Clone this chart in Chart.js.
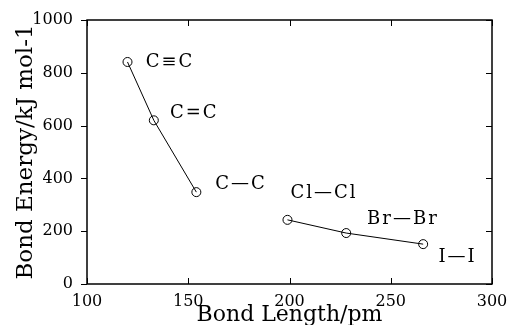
<!DOCTYPE html>
<html>
<head>
<meta charset="utf-8">
<script src="https://cdn.jsdelivr.net/npm/chart.js@4.4.0/dist/chart.umd.min.js"></script>
<style>
  body { margin: 0; background: #fff; }
  #wrap { width: 513px; height: 325px; }
</style>
</head>
<body>
<div id="wrap"><canvas id="chart"></canvas></div>
<script>
// carbon-carbon bonds
const carbonLength = [120, 133, 154];
const carbonEnergy = [841, 620, 348];
// halogen bonds
const halogenLength = [199, 228, 266];
const halogenEnergy = [243, 193, 151];

// bond labels (placed in data units)
const bondNames = ['C≡C', 'C=C', 'C—C', 'Cl—Cl', 'Br—Br', 'I—I'];
const bondLabelX = [141, 153, 176, 217, 256, 283];
const bondLabelY = [841, 648, 379, 345, 246, 102];

const xTicks = [100, 150, 200, 250, 300];
const yTicks = [0, 200, 400, 600, 800, 1000];

const FONT = "'DejaVu Serif', serif";

const toPoints = (xs, ys) => xs.map((x, i) => ({ x: x, y: ys[i] }));

// frame, ticks and bond labels
const decorations = {
    id: 'decorations',
    afterDraw(chart) {
        const ctx = chart.ctx;
        const { left, right, top, bottom } = chart.chartArea;
        const xs = chart.scales.x, ys = chart.scales.y;
        ctx.save();
        ctx.strokeStyle = '#000';
        ctx.lineWidth = 1.5;
        ctx.strokeRect(left, top, right - left, bottom - top);
        ctx.lineWidth = 1;
        ctx.beginPath();
        yTicks.forEach(v => {
            const py = Math.round(ys.getPixelForValue(v)) + 0.5;
            ctx.moveTo(left - 6, py); ctx.lineTo(left, py);
            ctx.moveTo(right - 6, py); ctx.lineTo(right, py);
        });
        xTicks.forEach(v => {
            const px = Math.round(xs.getPixelForValue(v)) + 0.5;
            ctx.moveTo(px, bottom); ctx.lineTo(px, bottom - 6);
            ctx.moveTo(px, top); ctx.lineTo(px, top + 6);
        });
        ctx.stroke();

        ctx.fillStyle = '#000';
        ctx.font = '18px ' + FONT;
        ctx.letterSpacing = '2px';
        ctx.textAlign = 'center';
        ctx.textBaseline = 'middle';
        bondNames.forEach((name, i) => {
            ctx.fillText(name, xs.getPixelForValue(bondLabelX[i]), ys.getPixelForValue(bondLabelY[i]));
        });
        ctx.restore();
    }
};

const lineStyle = {
    borderColor: '#000',
    borderWidth: 1,
    pointRadius: 4.5,
    pointBackgroundColor: 'rgba(0,0,0,0)',
    pointBorderColor: '#000',
    pointBorderWidth: 1,
    showLine: true,
    tension: 0
};

new Chart(document.getElementById('chart'), {
    type: 'scatter',
    data: {
        datasets: [
            Object.assign({ label: 'C-C', data: toPoints(carbonLength, carbonEnergy) }, lineStyle),
            Object.assign({ label: 'X-X', data: toPoints(halogenLength, halogenEnergy) }, lineStyle)
        ]
    },
    options: {
        responsive: true,
        maintainAspectRatio: false,
        animation: false,
        layout: { padding: { top: 20, right: 21, left: 0, bottom: 0 } },
        plugins: { legend: { display: false }, tooltip: { enabled: false } },
        scales: {
            x: {
                type: 'linear', min: 100, max: 300,
                afterBuildTicks: s => { s.ticks = xTicks.map(v => ({ value: v })); },
                afterFit: s => { s.height = 41; },
                grid: { display: false },
                border: { display: false },
                ticks: { color: '#000', font: { family: FONT, size: 16, lineHeight: 1 }, padding: 2,
                         maxRotation: 0, callback: v => String(v) },
                title: { display: true, text: 'Bond Length/pm', color: '#000',
                         font: { family: FONT, size: 22, lineHeight: 0.9 }, padding: { top: 0, bottom: 0 } }
            },
            y: {
                type: 'linear', min: 0, max: 1000,
                afterBuildTicks: s => { s.ticks = yTicks.map(v => ({ value: v })); },
                afterFit: s => { s.width = 87; },
                grid: { display: false },
                border: { display: false },
                ticks: { color: '#000', font: { family: FONT, size: 16 }, padding: 6, callback: v => String(v) },
                title: { display: true, text: 'Bond Energy/kJ mol-1', color: '#000',
                         font: { family: FONT, size: 23 }, padding: { top: 12, bottom: 0 } }
            }
        }
    },
    plugins: [decorations]
});
</script>
</body>
</html>
